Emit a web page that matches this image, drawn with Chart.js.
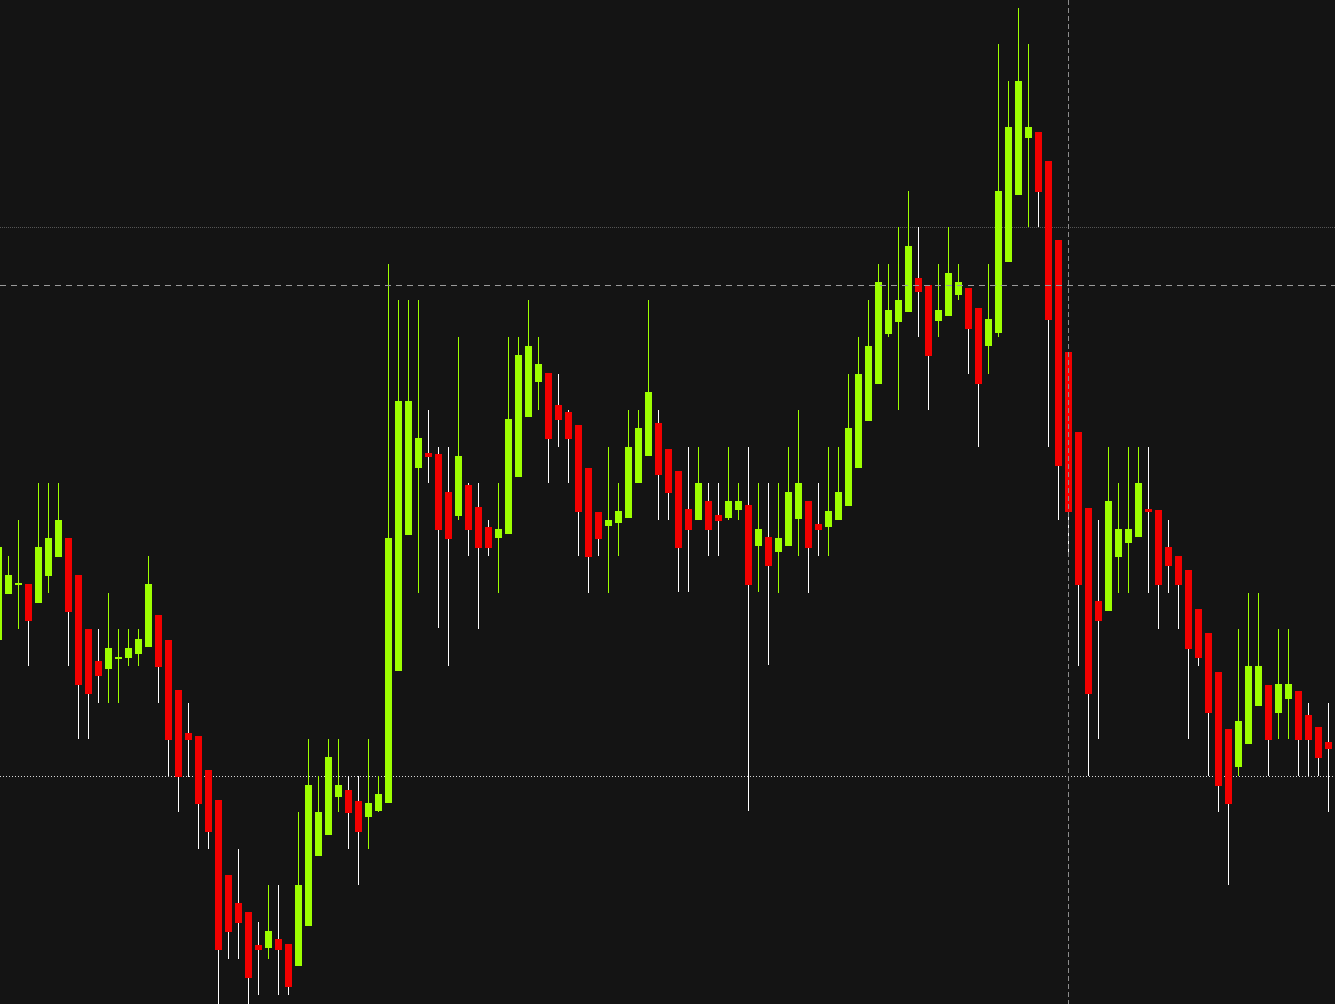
<!DOCTYPE html>
<html>
<head>
<meta charset="utf-8">
<style>
  html, body { margin: 0; padding: 0; background: #141414; overflow: hidden; }
  #c { display: block; }
</style>
<script src="https://cdn.jsdelivr.net/npm/chart.js@4.4.1/dist/chart.umd.min.js"></script>
</head>
<body>
<canvas id="c" width="1335" height="1004"></canvas>
<script>
// ---- OHLC data (one entry per bar, oldest first) ----
const opens = [364,410,419,420,401,428,447,466,429,375,343,335,345,346,350,357,389,364,314,271,268,234,204,129,101,92,59,56,65,60,38,78,148,169,207,214,203,187,193,201,333,469,536,551,550,512,488,519,497,477,466,470,527,587,622,631,599,592,579,536,492,478,481,486,521,548,581,555,533,495,484,503,489,486,494,499,458,467,452,458,485,503,480,477,484,498,536,583,620,670,682,692,726,719,683,688,709,716,696,658,671,742,809,866,872,843,764,652,572,496,403,393,447,461,467,495,494,457,448,434,395,371,332,275,237,260,298,319,291,305,313,289,277,262];
const highs = [459,448,484,420,521,521,521,466,429,375,375,411,375,375,375,448,389,364,314,301,268,234,204,129,155,92,82,119,119,60,192,265,228,265,265,228,228,265,228,740,704,704,704,594,557,557,667,521,521,484,521,667,667,704,667,631,630,594,579,536,492,557,521,594,594,704,594,555,533,557,557,521,521,557,521,557,521,521,521,557,594,503,521,557,557,630,667,704,740,740,777,813,777,719,740,777,740,716,696,740,960,923,996,960,872,843,764,652,572,496,484,557,521,557,557,557,494,484,448,434,395,371,332,275,375,411,411,319,375,375,313,301,277,301];
const lows = [363,410,375,338,401,411,447,338,265,265,301,301,301,338,338,357,301,228,192,227,155,155,-6,45,45,-6,9,45,9,9,38,78,148,169,192,155,119,155,192,201,333,469,411,521,376,338,484,448,375,448,411,470,527,587,594,521,557,521,448,411,448,411,448,486,521,548,484,484,412,412,484,448,448,484,484,193,412,339,411,458,448,411,448,448,484,498,536,583,620,667,594,692,667,594,667,688,704,630,557,630,667,742,809,777,777,557,484,448,338,228,265,393,411,411,467,411,375,411,375,265,338,228,192,119,228,260,298,228,265,265,228,228,228,192];
const closes = [457,429,421,383,457,466,484,392,319,310,328,356,347,356,365,420,337,264,227,264,200,172,54,72,81,26,54,73,54,17,119,219,192,247,219,191,172,201,210,466,603,603,566,547,474,465,548,474,456,456,475,585,649,658,640,565,584,565,492,447,465,484,493,557,576,612,529,511,456,474,521,474,483,503,503,419,475,438,466,512,521,456,474,493,512,576,630,658,722,694,704,758,712,648,694,731,722,675,620,685,813,877,923,877,812,684,538,492,419,310,383,503,475,475,521,492,419,438,419,355,346,291,218,200,283,338,338,264,320,320,264,264,246,255];

// bar positions (sequence numbers of the bars)
const barIndex = opens.map((_, i) => i);

// reference levels drawn behind the candles (prices)
const gridLevels = [776.5, 227.5];
// crosshair: bar number and price
const crosshairBar = 107;
const crosshairPrice = 718.5;

const UP = '#9dff00';
const DOWN = '#f20000';
const BG = '#141414';

const bodyData = barIndex.map(i => ({ x: i, y: [opens[i], closes[i]] }));
const wickData = barIndex.map(i => ({ x: i, y: [lows[i], highs[i]] }));
const bodyColors = barIndex.map(i => closes[i] >= opens[i] ? UP : DOWN);
const wickColors = barIndex.map(i => closes[i] >= opens[i] ? UP : '#ffffff');

const levelStyles = [
  { color: '#555555', dash: [1, 1] },
  { color: '#d8d8d8', dash: [1, 2] }
];

const linesPlugin = {
  id: 'levels',
  beforeDraw(chart) {
    const { ctx, width, height } = chart;
    ctx.save();
    ctx.fillStyle = BG;
    ctx.fillRect(0, 0, width, height);
    ctx.restore();
  },
  beforeDatasetsDraw(chart) {
    const { ctx, chartArea } = chart;
    const ys = chart.scales.y;
    ctx.save();
    ctx.lineWidth = 1;
    gridLevels.forEach((p, k) => {
      const y = ys.getPixelForValue(p);
      ctx.strokeStyle = levelStyles[k].color;
      ctx.setLineDash(levelStyles[k].dash);
      ctx.beginPath();
      ctx.moveTo(chartArea.left, y);
      ctx.lineTo(chartArea.right, y);
      ctx.stroke();
    });
    ctx.restore();
  },
  afterDatasetsDraw(chart) {
    const { ctx, chartArea } = chart;
    const xs = chart.scales.x, ys = chart.scales.y;
    ctx.save();
    ctx.lineWidth = 1;
    const y = ys.getPixelForValue(crosshairPrice);
    ctx.strokeStyle = '#9a9a9a';
    ctx.setLineDash([6, 5]);
    ctx.beginPath();
    ctx.moveTo(chartArea.left, y);
    ctx.lineTo(chartArea.right, y);
    ctx.stroke();
    const x = xs.getPixelForValue(crosshairBar);
    ctx.strokeStyle = '#8c8c8c';
    ctx.setLineDash([5, 3]);
    ctx.beginPath();
    ctx.moveTo(x, chartArea.top);
    ctx.lineTo(x, chartArea.bottom);
    ctx.stroke();
    ctx.restore();
  }
};

new Chart(document.getElementById('c'), {
  type: 'bar',
  data: {
    datasets: [
      {
        label: 'Body',
        data: bodyData,
        backgroundColor: bodyColors,
        borderWidth: 0,
        barThickness: 7,
        grouped: false,
        inflateAmount: 0,
        order: 0
      },
      {
        label: 'Wick',
        data: wickData,
        backgroundColor: wickColors,
        borderWidth: 0,
        barThickness: 1,
        grouped: false,
        inflateAmount: 0,
        order: 1
      }
    ]
  },
  options: {
    responsive: false,
    maintainAspectRatio: false,
    animation: false,
    devicePixelRatio: 1,
    layout: { padding: 0 },
    plugins: { legend: { display: false }, tooltip: { enabled: false } },
    scales: {
      x: { type: 'linear', min: 0.15, max: 133.65, display: false, offset: false },
      y: { type: 'linear', min: 0, max: 1004, display: false }
    }
  },
  plugins: [linesPlugin]
});
</script>
</body>
</html>
